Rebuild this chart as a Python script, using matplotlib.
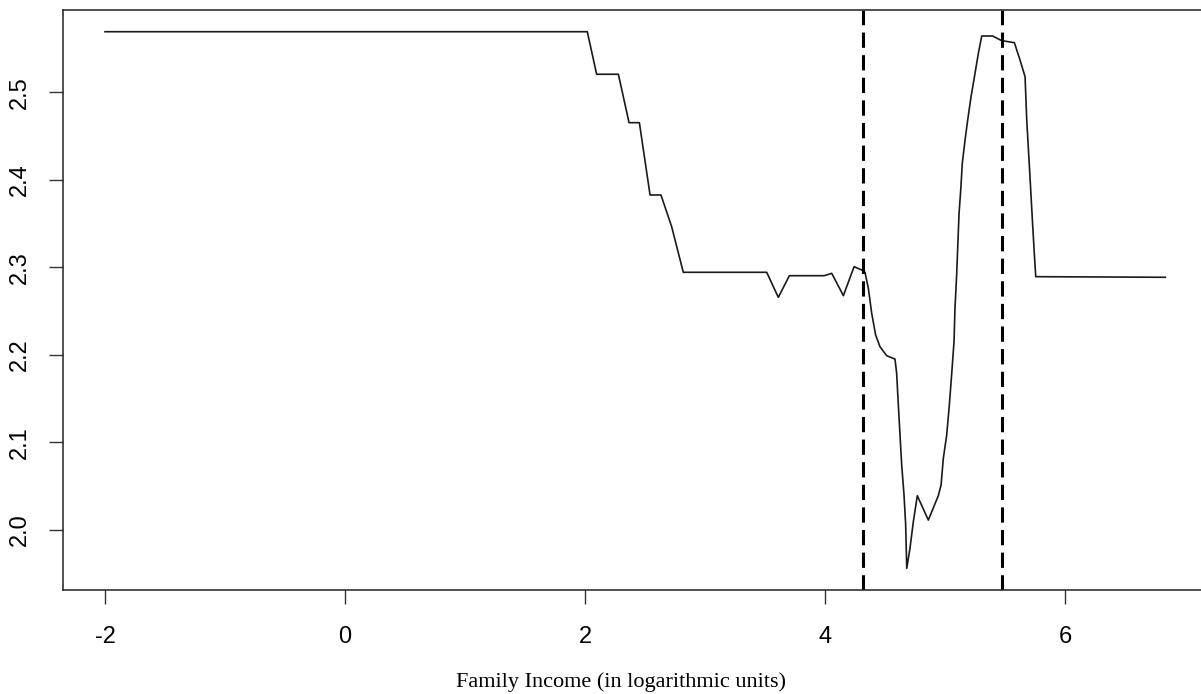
import matplotlib
matplotlib.use("Agg")
import matplotlib.pyplot as plt

# curve (family income in log units vs estimate)
income = [-2.0, 2.019, 2.097, 2.278, 2.367, 2.453, 2.542, 2.633, 2.722, 2.819,
          3.514, 3.611, 3.703, 3.992, 4.056, 4.153, 4.242, 4.306, 4.333, 4.361,
          4.389, 4.422, 4.458, 4.514, 4.583, 4.597, 4.611, 4.625, 4.639, 4.658,
          4.672, 4.681, 4.708, 4.736, 4.769, 4.861, 4.944, 4.967, 4.986, 5.014,
          5.036, 5.056, 5.075, 5.083, 5.097, 5.106, 5.117, 5.131, 5.144, 5.167,
          5.189, 5.217, 5.250, 5.278, 5.306, 5.397, 5.472, 5.578, 5.625, 5.667,
          5.681, 5.708, 5.728, 5.744, 5.756, 6.836]
estimate = [2.5692, 2.5692, 2.5206, 2.5206, 2.4653, 2.4653, 2.3827, 2.3827, 2.3465, 2.2944,
            2.2944, 2.2658, 2.2905, 2.2905, 2.2932, 2.2677, 2.3008, 2.2970, 2.2944, 2.2761,
            2.2476, 2.2227, 2.2094, 2.1991, 2.1953, 2.1790, 2.1428, 2.1085, 2.0743, 2.0408,
            2.0065, 1.9562, 1.9791, 2.0095, 2.0392, 2.0114, 2.0392, 2.0514, 2.0819, 2.1085,
            2.1428, 2.1790, 2.2151, 2.2533, 2.2913, 2.3236, 2.3618, 2.3884, 2.4189, 2.4455,
            2.4684, 2.4950, 2.5217, 2.5446, 2.5643, 2.5643, 2.5590, 2.5567, 2.5369, 2.5178,
            2.4684, 2.4036, 2.3541, 2.3161, 2.2894, 2.2887]

# dashed reference lines
cutoffs = [4.319, 5.4775]

xticks = [-2, 0, 2, 4, 6]
yticks = [2.0, 2.1, 2.2, 2.3, 2.4, 2.5]

fig = plt.figure(figsize=(12.01, 6.94), dpi=100)
ax = fig.add_axes([62.7 / 1201, 104 / 694, 1145 / 1201, 580 / 694])

ax.plot(income, estimate, color='#1a1a1a', linewidth=1.2)
for c in cutoffs:
    ax.axvline(c, color='black', linewidth=2.2, linestyle=(0, (5, 2.4)))

ax.set_xlim(-2.3525, 7.189)
ax.set_ylim(1.9315, 2.594)

ax.set_xticks(xticks)
ax.set_xticklabels(['-2', '0', '2', '4', '6'], fontfamily='Liberation Sans', fontsize=17)
ax.set_yticks(yticks)
ax.set_yticklabels(['2.0', '2.1', '2.2', '2.3', '2.4', '2.5'], fontfamily='Liberation Sans',
                   fontsize=17, rotation=90, va='center')
ax.tick_params(axis='both', length=10, width=1, color='#333333', direction='out')
ax.tick_params(axis='x', pad=16)
ax.tick_params(axis='y', pad=13)

for s in ax.spines.values():
    s.set_linewidth(1.1)
    s.set_color('#222222')

ax.set_xlabel('Family Income (in logarithmic units)', fontfamily='Liberation Serif',
              fontsize=16)
ax.xaxis.set_label_coords(0.4876, -0.142)

fig.savefig('out.png', dpi=100)
